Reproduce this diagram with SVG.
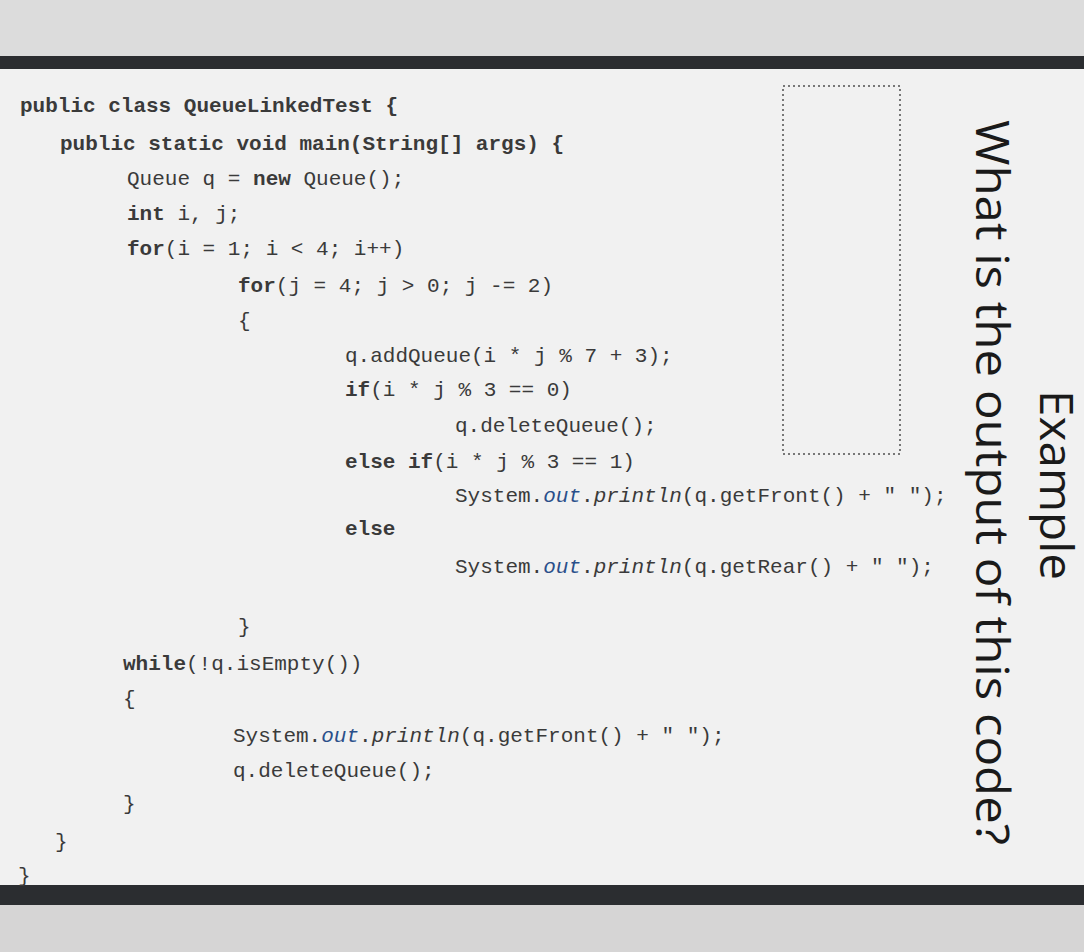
<svg xmlns="http://www.w3.org/2000/svg" width="1084" height="952" viewBox="0 0 1084 952">
<style>
.c{font-family:"Liberation Mono","DejaVu Sans Mono",monospace;font-size:21px;fill:#3a3a3a}
.b{font-weight:bold}
.o{font-style:italic;fill:#2a4f8a}
.t{font-family:"Open Sans","Liberation Sans",sans-serif;font-size:46px;fill:#1a1a1a}
</style>
<rect width="1084" height="952" fill="#d9d8d8"/>
<rect x="0" y="0" width="1084" height="56" fill="#dcdcdc"/>
<rect x="0" y="56" width="1084" height="13" fill="#2b2d30"/>
<rect x="0" y="69" width="1084" height="816" fill="#f1f1f1"/>
<rect x="0" y="885" width="1084" height="20" fill="#2b2d30"/>
<rect x="0" y="905" width="1084" height="47" fill="#d6d5d5"/>
<rect x="783" y="86" width="117" height="368" fill="none" stroke="#777" stroke-width="2" stroke-dasharray="2,3"/>
<text class="t" transform="translate(976,120) rotate(90)" textLength="725" lengthAdjust="spacingAndGlyphs">What is the output of this code?</text>
<text class="t" transform="translate(1040,390) rotate(90)" textLength="190" lengthAdjust="spacingAndGlyphs">Example</text>
<g class="c">
<text x="20" y="112"><tspan class="b">public class QueueLinkedTest {</tspan></text>
<text x="60" y="150"><tspan class="b">public static void main(String[] args) {</tspan></text>
<text x="127" y="185">Queue q = <tspan class="b">new</tspan> Queue();</text>
<text x="127" y="220"><tspan class="b">int</tspan> i, j;</text>
<text x="127" y="255"><tspan class="b">for</tspan>(i = 1; i &lt; 4; i++)</text>
<text x="238" y="292"><tspan class="b">for</tspan>(j = 4; j &gt; 0; j -= 2)</text>
<text x="238" y="327">{</text>
<text x="345" y="362">q.addQueue(i * j % 7 + 3);</text>
<text x="345" y="396"><tspan class="b">if</tspan>(i * j % 3 == 0)</text>
<text x="455" y="432">q.deleteQueue();</text>
<text x="345" y="468"><tspan class="b">else if</tspan>(i * j % 3 == 1)</text>
<text x="455" y="502">System.<tspan class="o">out</tspan>.<tspan font-style="italic">println</tspan>(q.getFront() + " ");</text>
<text x="345" y="535"><tspan class="b">else</tspan></text>
<text x="455" y="573">System.<tspan class="o">out</tspan>.<tspan font-style="italic">println</tspan>(q.getRear() + " ");</text>
<text x="238" y="633">}</text>
<text x="123" y="670"><tspan class="b">while</tspan>(!q.isEmpty())</text>
<text x="123" y="705">{</text>
<text x="233" y="742">System.<tspan class="o">out</tspan>.<tspan font-style="italic">println</tspan>(q.getFront() + " ");</text>
<text x="233" y="777">q.deleteQueue();</text>
<text x="123" y="810">}</text>
<text x="55" y="848">}</text>
<text x="18" y="882">}</text>
</g>
</svg>
